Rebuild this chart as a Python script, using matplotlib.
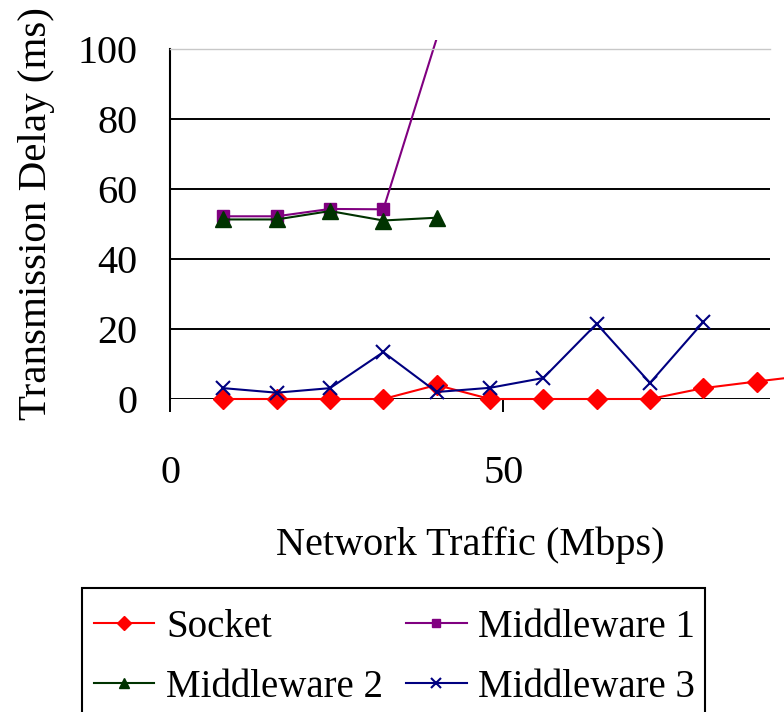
import matplotlib
matplotlib.use('Agg')
import matplotlib.pyplot as plt
from matplotlib.patches import Rectangle

plt.rcParams['font.family'] = ['Liberation Serif', 'DejaVu Serif']
plt.rcParams['font.size'] = 29

# Data
traffic = [8, 16, 24, 32, 40, 48, 56, 64, 72, 80, 88, 96]
socket = [0, 0, 0, 0, 4, 0, 0, 0, 0, 3.1, 5, 6.8]
mw1_x = [8, 16, 24, 32, 40]
mw1 = [52.2, 52.2, 54.3, 54.2, 103]
mw2_x = [8, 16, 24, 32, 40]
mw2 = [51.3, 51.3, 53.7, 51.0, 51.8]
mw3_x = [8, 16, 24, 32, 40, 48, 56, 64, 72, 80]
mw3 = [3.1, 1.8, 3.1, 13.4, 2.0, 3.2, 6.0, 21.5, 4.6, 22.0]

fig = plt.figure(figsize=(7.84, 7.12), dpi=100)
ax = fig.add_axes([170/784, 1-399/712, 600/784, 350/712])

ax.set_xlim(0, 90)
ax.set_ylim(0, 100)
ax.set_yticks([0, 20, 40, 60, 80, 100])
ax.set_xticks([0, 50])
ax.yaxis.grid(True, color='black', lw=1.4)
ax.set_axisbelow(True)
ax.tick_params(axis='y', length=0, pad=23.5)
ax.tick_params(axis='x', direction='out', length=9.5, width=1.4, pad=31)

ax.spines['right'].set_visible(False)
ax.spines['bottom'].set_visible(False)
ax.spines['top'].set_color('#c8c8c8')
ax.spines['top'].set_linewidth(1)
ax.spines['left'].set_linewidth(1.5)

# lines may spill a little past the plot area, as in the original
clip = Rectangle((0, -0.05), 1.2, 1.075, transform=ax.transAxes)

l1, = ax.plot(traffic, socket, color='#ff0000', marker='D', ms=10.5, lw=1.5, label='Socket')
l2, = ax.plot(mw1_x, mw1, color='#800080', marker='s', ms=9, lw=1.5,
              markevery=[0, 1, 2, 3], label='Middleware 1')
l3, = ax.plot(mw2_x, mw2, color='#003300', marker='^', ms=11, lw=1.5, label='Middleware 2')
l4, = ax.plot(mw3_x, mw3, color='#000080', marker='x', ms=10, mew=1.5, lw=1.5, label='Middleware 3')
for ln in (l1, l2, l3, l4):
    ln.set_clip_path(clip)

fig.text(37/784, 1-214/712, 'Transmission Delay (ms)', rotation=90,
         ha='center', va='center', fontsize=29.5)
fig.text(470/784, 1-545/712, 'Network Traffic (Mbps)', ha='center', va='center')

# legend box runs off the bottom of the figure
fig.patches.append(Rectangle((82/784, -0.05), 623/784, 1.05-588/712,
                             transform=fig.transFigure, fill=False,
                             edgecolor='black', lw=1.5))
# row-wise order: Socket, MW1 / MW2, MW3
leg = fig.legend(handles=[l1, l3, l2, l4], ncol=2, loc='upper left',
                 bbox_to_anchor=(94/784, 1-609/712), borderaxespad=0,
                 frameon=False, borderpad=0, fontsize=28,
                 handlelength=1.55, handletextpad=0.3, columnspacing=0.6,
                 labelspacing=0.58, markerscale=0.7)

fig.savefig('out.png', dpi=100)
